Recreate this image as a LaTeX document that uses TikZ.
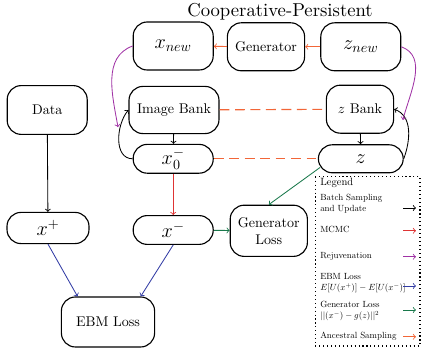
\documentclass[tikz,border=0pt]{standalone}
\usepackage{tikz}
\usepackage{graphicx}
\usepackage{xcolor}
\definecolor{mcmcRed}{RGB}{222, 52, 52}
\definecolor{rejuvPurple}{RGB}{160, 50, 165}
\definecolor{ebmBlue}{RGB}{50, 60, 165}
\definecolor{genGreen}{RGB}{25, 120, 75}
\definecolor{ancOrange}{RGB}{242, 102, 56}
\newcommand{\legtxt}[1]{\scalebox{0.635}{\begin{tabular}{@{}l@{}}#1\end{tabular}}}

\begin{document}
\begin{tikzpicture}
            \tikzstyle{box} = [draw, thick, rounded corners=0.35cm, minimum width=2cm, minimum height=1.2cm, inner sep=0pt, align=center]
            \tikzstyle{pill} = [draw, thick, rounded corners=0.35cm, minimum width=2cm, minimum height=0.72cm, inner sep=0pt, font=\Large]
            \tikzstyle{batch} = [->, semithick]
            \tikzstyle{mcmc} = [->, semithick, mcmcRed]
            \tikzstyle{rejuv} = [->, semithick, rejuvPurple]
            \tikzstyle{ebml} = [->, semithick, ebmBlue]
            \tikzstyle{genl} = [->, semithick, genGreen]
            \tikzstyle{anc} = [->, semithick, ancOrange]
            \tikzstyle{ancdash} = [ancOrange, thick, dash pattern=on 7pt off 4pt]
            \tikzstyle{legtext} = [anchor=west, inner sep=0pt]
            \useasboundingbox (0,0) rectangle (10.55,8.7);

            \node (title) at (7.0,8.4) {\scalebox{1.33}{Cooperative-Persistent}};

            % Generator row
            \node[box, font=\Large] (xnew) at (4.33,7.55) {$x_{new}$};
            \node[box, minimum width=1.93cm] (gen) at (6.65,7.53) {Generator};
            \node[box, font=\Large] (znew) at (9.02,7.53) {$z_{new}$};
            \draw[anc] (znew) -- (gen);
            \draw[anc] (gen) -- (xnew);

            % Persistent banks
            \node[box, minimum width=2cm, minimum height=1.22cm] (data) at (1.18,5.95) {Data};
            \node[box, minimum width=2.25cm, minimum height=1.18cm] (imgbank) at (4.35,5.95) {Image Bank};
            \node[box, minimum width=1.68cm] (zbank) at (9.0,5.97) {$z$ Bank};
            \node[pill] (xzero) at (4.33,4.73) {$x_0^-$};
            \node[pill, minimum width=2.12cm, minimum height=0.7cm] (z) at (9.02,4.73) {$z$};
            \draw[batch] (imgbank) -- (xzero);
            \draw[batch] (zbank) -- (z);
            \draw[batch] (xzero.west) to[out=180, in=230] (imgbank.west);
            \draw[batch] (z.east) to[out=70, in=-20] (zbank.east);
            \draw[ancdash] (imgbank) -- (zbank);
            \draw[ancdash] (xzero) -- (z);

            % Rejuvenation
            \coordinate (rejl) at (2.95,5.52);
            \coordinate (rejr) at (10.07,5.7);
            \draw[rejuv] (xnew.west) to[out=200, in=100] (rejl);
            \draw[rejuv] (znew.east) to[out=-20, in=75] (rejr);

            % Samples and losses
            \node[pill, minimum width=2.05cm, minimum height=0.78cm] (xplus) at (1.2,3.0) {$x^+$};
            \node[pill] (xminus) at (4.33,2.95) {$x^-$};
            \node[box, minimum width=1.93cm, minimum height=1.28cm] (genloss) at (6.72,2.93) {Generator\\Loss};
            \node[box, minimum width=2.33cm, minimum height=1.25cm] (ebmloss) at (2.7,0.65) {EBM Loss};
            \draw[batch] (data) -- (xplus);
            \draw[mcmc] (xzero) -- (xminus);
            \draw[ebml] (xplus.south) -- (ebmloss.140);
            \draw[ebml] (xminus.south) -- (ebmloss.38);
            \draw[genl] (xminus) -- (genloss);
            \draw[genl] ([shift={(0.06,0.15)}]z.south west) -- (genloss.north);

            % Legend
            \draw[dotted, thick] (7.88,4.28) rectangle (10.5,0.05);
            \node[legtext] (legtitle) at (8.0,4.12) {\scalebox{0.75}{Legend}};
            \node[legtext] (legbatch) at (8.0,3.6) {\legtxt{Batch Sampling\\and Update}};
            \node[legtext] (legmcmc) at (8.0,2.95) {\legtxt{MCMC}};
            \node[legtext] (legrejuv) at (8.0,2.3) {\legtxt{Rejuvenation}};
            \node[legtext] (legebm) at (8.0,1.63) {\legtxt{EBM Loss\\$E[U(x^+)]-E[U(x^-)]$}};
            \node[legtext] (leggen) at (8.0,0.93) {\legtxt{Generator Loss\\$||(x^-)-g(z)||^2$}};
            \node[legtext] (leganc) at (8.0,0.3) {\legtxt{Ancestral Sampling}};
            \draw[batch] (10.08,3.5) -- (10.4,3.5);
            \draw[mcmc] (10.08,2.93) -- (10.4,2.93);
            \draw[rejuv] (10.08,2.28) -- (10.4,2.28);
            \draw[ebml] (10.08,1.55) -- (10.4,1.55);
            \draw[genl] (10.08,0.95) -- (10.4,0.95);
            \draw[anc] (10.08,0.28) -- (10.4,0.28);
        \end{tikzpicture}
\end{document}
